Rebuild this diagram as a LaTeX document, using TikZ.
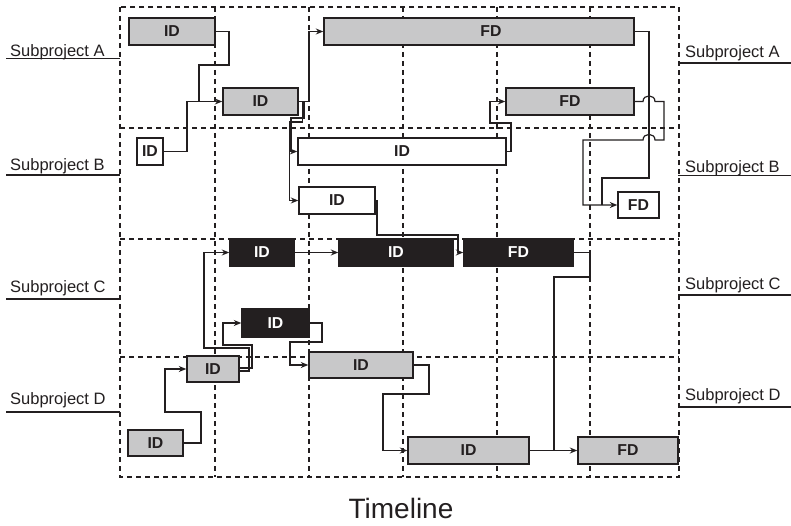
\documentclass[tikz,border=0pt]{standalone}
\usepackage{fontspec}
\setmainfont{Liberation Sans}
\usetikzlibrary{arrows.meta}
\definecolor{boxgray}{RGB}{200,200,201}
\definecolor{ink}{RGB}{35,31,32}
\begin{document}
\begin{tikzpicture}[x=1pt,y=-1pt,
  task/.style={draw=ink, line width=1.4pt, inner sep=0pt,
    font=\fontsize{15.8}{18}\selectfont\bfseries},
  gtask/.style={task, fill=boxgray, text=ink},
  wtask/.style={task, fill=white, text=ink},
  btask/.style={task, fill=ink, text=white},
  lanegrid/.style={ink, line width=1.8pt, dash pattern=on 5pt off 4pt},
  wire/.style={ink, line width=1.2pt},
  arr/.style={wire, -{Stealth[length=7.5pt,width=6pt]}},
  lane/.style={font=\fontsize{16.5}{18}\selectfont, text=ink, inner sep=0pt, anchor=base west},
  laneline/.style={ink, line width=1.6pt}]

\fill[white] (0,0) rectangle (791,526);
\useasboundingbox (0,0) rectangle (791,526);

% swimlane grid
\draw[lanegrid] (120,7) rectangle (679,477);
\foreach \yy in {128,239,357} \draw[lanegrid] (120,\yy) -- (679,\yy);
\foreach \xx in {215,309,403,497,590} \draw[lanegrid] (\xx,7) -- (\xx,477);

% lane labels
\node[lane] (lA) at (10,56.5) {Subproject A};
\node[lane] (lB) at (10,171) {Subproject B};
\node[lane] (lC) at (10,292) {Subproject C};
\node[lane] (lD) at (10,404) {Subproject D};
\draw[laneline] (6,58.5) -- (120,58.5);
\draw[laneline] (6,175) -- (120,175);
\draw[laneline] (6,299) -- (120,299);
\draw[laneline] (6,412) -- (120,412);

\node[lane] (rA) at (685,57.3) {Subproject A};
\node[lane] (rB) at (685,172.7) {Subproject B};
\node[lane] (rC) at (685,289.3) {Subproject C};
\node[lane] (rD) at (685,400) {Subproject D};
\draw[laneline] (678,63.3) -- (791,63.3);
\draw[laneline] (678,175.7) -- (791,175.7);
\draw[laneline] (678,295) -- (791,295);
\draw[laneline] (678,406.7) -- (791,406.7);

\node[font=\fontsize{28}{32}\selectfont, text=ink, anchor=base, inner sep=0pt] (tl) at (401,518) {Timeline};

% tasks, subproject A
\node[gtask, minimum width=86pt, minimum height=27pt] (a1) at (172,31.5) {ID};
\node[gtask, minimum width=75pt, minimum height=27pt] (a2) at (260.5,101.5) {ID};
\node[gtask, minimum width=310pt, minimum height=27pt] (a3) at (479,31.5) {\hspace*{24pt}FD};
\node[gtask, minimum width=128pt, minimum height=27pt] (a4) at (570,101.5) {FD};
% subproject B
\node[wtask, minimum width=26pt, minimum height=27pt] (b1) at (150,151.5) {ID};
\node[wtask, minimum width=208pt, minimum height=27pt] (b2) at (402,151.5) {ID};
\node[wtask, minimum width=76pt, minimum height=27pt] (b3) at (337,200.5) {ID};
\node[wtask, minimum width=41pt, minimum height=26pt] (b4) at (638.5,205) {FD};
% subproject C
\node[btask, minimum width=64pt, minimum height=28pt] (c1) at (262,252.5) {ID};
\node[btask, minimum width=114pt, minimum height=27pt] (c2) at (396,252.5) {ID};
\node[btask, minimum width=109pt, minimum height=27pt] (c3) at (518.5,252.5) {FD};
\node[btask, minimum width=67pt, minimum height=28pt] (c4) at (275.5,323) {ID};
% subproject D
\node[gtask, minimum width=52pt, minimum height=26pt] (d1) at (213,369) {ID};
\node[gtask, minimum width=104pt, minimum height=26pt] (d2) at (361,365) {ID};
\node[gtask, minimum width=55pt, minimum height=26pt] (d3) at (155.5,443) {ID};
\node[gtask, minimum width=121pt, minimum height=27pt] (d4) at (468.5,450.5) {ID};
\node[gtask, minimum width=100pt, minimum height=27pt] (d5) at (628,450.5) {FD};

% junctions where links merge
\coordinate (m1) at (199,101.5);
\coordinate (m2) at (602,205);
\coordinate (m3) at (554,450.5);

% dependencies
\draw[wire] (a1.east) -- (229,31.5) -- (229,65) -- (199,65) -- (m1);
\draw[arr] (b1.east) -- (187,151.5) -- (187,101.5) -- (a2.west);
\draw[arr] (a2.east) -- (309,101.5) -- (309,31.5) -- (a3.west);
\draw[arr] (a2.east) -- (304,101.5) -- (304,118) -- (291,118) -- (291,151.5) -- (b2.west);
\draw[arr] (a2.east) -- (302.5,101.5) -- (302.5,122) -- (289.5,122) -- (289.5,200.5) -- (b3.west);
\draw[arr] (b2.east) -- (511,151.5) -- (511,123) -- (490,123) -- (490,101.5) -- (a4.west);
\draw[wire] (a3.east) -- (649,31.5) -- (649,178) -- (602,178) -- (m2);
\draw[arr] (a4.east) -- (643,101.5) .. controls (643,94) and (655,94) .. (655,101.5)
  -- (664,101.5) -- (664,140) -- (655,140) .. controls (655,132.5) and (643,132.5) .. (643,140)
  -- (583,140) -- (583,205) -- (b4.west);
\draw[arr] (b3.east) -- (377,200.5) -- (377,235) -- (458,235) -- (458,252.5) -- (c3.west);
\draw[arr] (c1.east) -- (c2.west);
\draw[wire] (c3.east) -- (590,252.5) -- (590,277) -- (554,277) -- (m3);
\draw[arr] (d4.east) -- (d5.west);
\draw[arr] (d2.east) -- (429,365) -- (429,394) -- (383,394) -- (383,450.5) -- (d4.west);
\draw[arr] (d3.east) -- (201,443) -- (201,412) -- (165,412) -- (165,369) -- (d1.west);
\draw[arr] ([yshift=1pt]d1.east) -- (252,368) -- (252,345) -- (223,345) -- (223,323) -- (c4.west);
\draw[arr] ([yshift=-2pt]d1.east) -- (249,371) -- (249,348) -- (204,348) -- (204,252.5) -- (c1.west);
\draw[arr] (c4.east) -- (322,323) -- (322,342) -- (290,342) -- (290,365) -- (d2.west);
\end{tikzpicture}
\end{document}
